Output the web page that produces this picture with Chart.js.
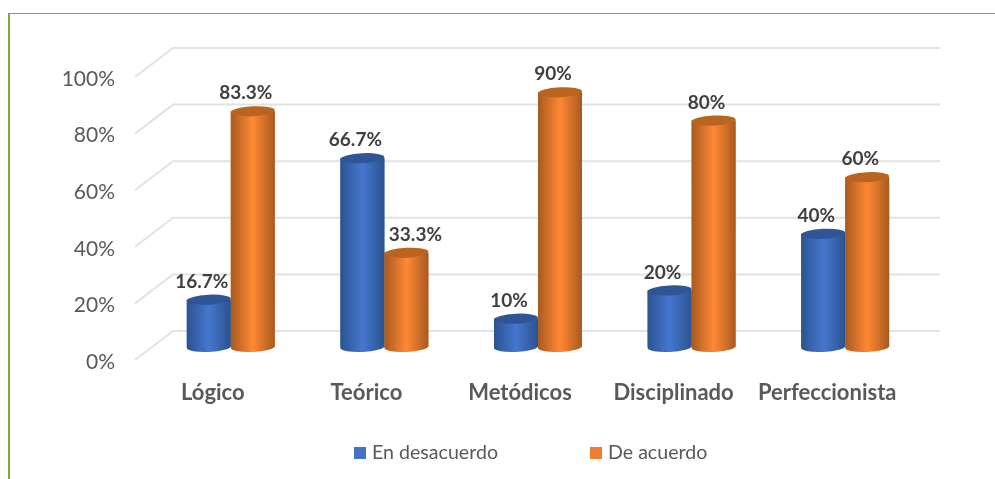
<!DOCTYPE html>
<html>
<head>
<meta charset="utf-8">
<script src="https://cdn.jsdelivr.net/npm/chart.js@4"></script>
<style>
html, body { margin: 0; padding: 0; background: #fff; overflow: hidden; }
#wrap { position: relative; width: 995px; height: 479px; }
#frame { position: absolute; left: 8px; top: 13px; right: 0; bottom: 0; border-top: 1px solid #70ad47; border-left: 2px solid #70ad47; }
#legend { position: absolute; top: 440px; left: 354px; font: 19.6px Lato, sans-serif; color: #595959; white-space: nowrap; }
#legend span { display: inline-block; }
#legend i { display: inline-block; width: 12px; height: 12px; margin-right: 6px; }
</style>
</head>
<body>
<div id="wrap">
  <div id="frame"></div>
  <canvas id="chart" width="995" height="479"></canvas>
  <div id="legend"></div>
</div>
<script>
var categories = ['Lógico', 'Teórico', 'Metódicos', 'Disciplinado', 'Perfeccionista'];
var en_desacuerdo = [16.7, 66.7, 10, 20, 40];
var de_acuerdo = [83.3, 33.3, 90, 80, 60];
var series_names = ['En desacuerdo', 'De acuerdo'];
var y_ticks = [0, 20, 40, 60, 80, 100];

var blue = { flat: '#4472c4', edge: '#2b5390', mid: '#4677cf', cap: '#2f5597' };
var orange = { flat: '#ed7d31', edge: '#a85a20', mid: '#ff8833', cap: '#b9651f' };
var palettes = [blue, orange];

// the 3d back wall, drawn from the y scale
var wall = {
    id: 'wall',
    beforeDatasetsDraw(chart) {
        const ctx = chart.ctx, y = chart.scales.y;
        ctx.save();
        ctx.strokeStyle = '#e2e2e2';
        ctx.lineWidth = 2;
        y_ticks.forEach(t => {
            const p = y.getPixelForValue(t);
            ctx.beginPath();
            ctx.moveTo(135, p + 13);
            ctx.lineTo(173, p - 16);
            ctx.lineTo(940, p - 16);
            ctx.stroke();
        });
        ctx.restore();
    }
};

// paints each bar again as a cylinder, orange goes over blue
var cylinders = {
    id: 'cylinders',
    afterDatasetsDraw(chart) {
        const ctx = chart.ctx;
        chart.data.datasets.forEach((ds, i) => {
            const pal = palettes[i];
            chart.getDatasetMeta(i).data.forEach(bar => {
                const rx = bar.width / 2, ry = 5, tilt = -0.05;
                const g = ctx.createLinearGradient(bar.x - rx, 0, bar.x + rx, 0);
                g.addColorStop(0, pal.edge);
                g.addColorStop(0.5, pal.mid);
                g.addColorStop(1, pal.edge);
                ctx.save();
                ctx.fillStyle = g;
                ctx.beginPath();
                ctx.ellipse(bar.x, bar.base, rx, ry, tilt, 0, Math.PI);
                ctx.lineTo(bar.x - rx, bar.y);
                ctx.lineTo(bar.x + rx, bar.y);
                ctx.closePath();
                ctx.fill();
                ctx.fillStyle = pal.cap;
                ctx.beginPath();
                ctx.ellipse(bar.x, bar.y, rx, ry, tilt, 0, 2 * Math.PI);
                ctx.fill();
                ctx.restore();
            });
        });
    }
};

var value_labels = {
    id: 'value_labels',
    afterDraw(chart) {
        const ctx = chart.ctx;
        ctx.save();
        ctx.font = 'bold 19px Lato, sans-serif';
        ctx.fillStyle = '#404040';
        ctx.textAlign = 'center';
        ctx.textBaseline = 'middle';
        chart.data.datasets.forEach((ds, i) => {
            chart.getDatasetMeta(i).data.forEach((bar, j) => {
                // 33.3 sits to the right in the original
                const dx = ds.data[j] === 33.3 ? 9 : -7;
                ctx.fillText(ds.data[j] + '%', bar.x + dx, bar.y - 18);
            });
        });
        ctx.restore();
    }
};

new Chart(document.getElementById('chart'), {
    type: 'bar',
    data: {
        labels: categories,
        datasets: [
            { label: series_names[0], data: en_desacuerdo, backgroundColor: blue.flat },
            { label: series_names[1], data: de_acuerdo, backgroundColor: orange.flat }
        ]
    },
    options: {
        responsive: false,
        animation: false,
        layout: { padding: { top: 64, right: 73, left: 0, bottom: 0 } },
        plugins: { legend: { display: false }, tooltip: { enabled: false } },
        datasets: { bar: { barPercentage: 1, categoryPercentage: 0.573 } },
        scales: {
            x: {
                grid: { display: false },
                border: { display: false },
                afterFit(scale) { scale.height = 132; },
                ticks: {
                    autoSkip: false,
                    maxRotation: 0,
                    padding: 25,
                    labelOffset: -18,
                    color: '#595959',
                    font: { family: 'Lato, sans-serif', size: 22, weight: 'bold' }
                }
            },
            y: {
                min: 0,
                max: 100,
                grid: { display: false },
                border: { display: false },
                afterFit(scale) { scale.width = 154; },
                ticks: {
                    stepSize: 20,
                    padding: 31,
                    labelOffset: 15,
                    color: '#595959',
                    font: { family: 'Lato, sans-serif', size: 21 },
                    callback: v => v + '%'
                }
            }
        }
    },
    plugins: [wall, cylinders, value_labels]
});

var legend = document.getElementById('legend');
series_names.forEach((name, i) => {
    const item = document.createElement('span');
    item.style.marginRight = i == 0 ? '92px' : '0';
    item.innerHTML = '<i style="background:' + palettes[i].flat + '"></i>' + name;
    legend.appendChild(item);
});
</script>
</body>
</html>
